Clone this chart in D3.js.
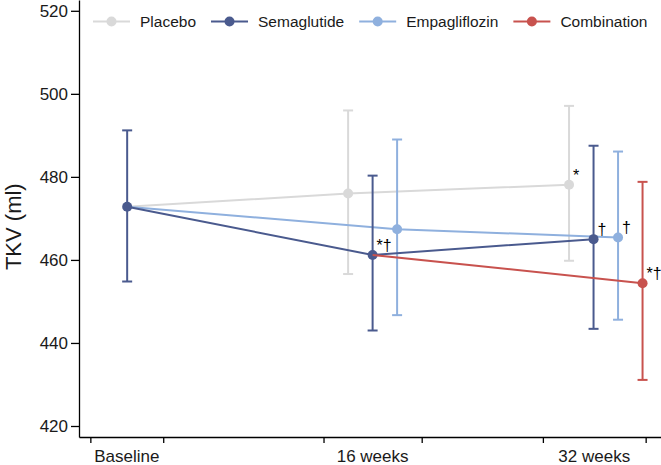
<!DOCTYPE html>
<html>
<head>
<meta charset="utf-8">
<script src="https://cdn.jsdelivr.net/npm/d3@7"></script>
<style>
  body { margin: 0; background: #fff; }
  text { font-family: "Liberation Sans", Arial, Helvetica, sans-serif; }
</style>
</head>
<body>
<div id="chart"></div>
<script>
// time points
var timeLabels = ["Baseline", "16 weeks", "32 weeks"];
var weeks = [0, 16, 32];

// group tick marks on the x axis (in weeks)
var groupTicks = [[-2.4, 2.35], [12.8, 19.2], [27.1, 33.8]];
var yTicks = [420, 440, 460, 480, 500, 520];

// series values (null = not drawn / shared point)
var seriesNames = ["Placebo", "Semaglutide", "Empagliflozin", "Combination"];
var placeboMean  = [472.8, 476.0, 478.1];
var placeboLow   = [null, 456.6, 459.8];
var placeboHigh  = [null, 496.0, 497.1];
var semaMean     = [472.8, 461.2, 465.0];
var semaLow      = [454.8, 443.0, 443.4];
var semaHigh     = [491.2, 480.3, 487.5];
var empaMean     = [472.8, 467.4, 465.4];
var empaLow      = [null, 446.7, 445.6];
var empaHigh     = [null, 489.0, 486.1];
var comboMean    = [null, 461.2, 454.4];   // starts from semaglutide at 16 weeks
var comboLow     = [null, null, 431.1];
var comboHigh    = [null, null, 478.8];

var notes = [
  {series: "Semaglutide", t: 1, text: "*†"},
  {series: "Placebo", t: 2, text: "*"},
  {series: "Semaglutide", t: 2, text: "†"},
  {series: "Empagliflozin", t: 2, text: "†"},
  {series: "Combination", t: 2, text: "*†"}
];

var colors = {
  "Placebo": "#d9d9d9",
  "Semaglutide": "#4a5a8e",
  "Empagliflozin": "#8fb0de",
  "Combination": "#c8524e"
};

var data = [
  {name: "Placebo", mean: placeboMean, low: placeboLow, high: placeboHigh},
  {name: "Semaglutide", mean: semaMean, low: semaLow, high: semaHigh},
  {name: "Empagliflozin", mean: empaMean, low: empaLow, high: empaHigh},
  {name: "Combination", mean: comboMean, low: comboLow, high: comboHigh}
];

var width = 661;
var height = 465;
var step = 24.5;

// which series sit side by side at each time point
var slots = [
  [],
  ["Placebo", "Semaglutide", "Empagliflozin"],
  ["Placebo", "Semaglutide", "Empagliflozin", "Combination"]
];

/* Scales */
var xScale = d3.scaleLinear().domain([-3.14, 34.8]).range([79, 661]);
var yScale = d3.scaleLinear().domain([417.35, 522.6]).range([437, 0]);

function xPos(name, t) {
  var s = slots[t];
  var i = s.indexOf(name);
  if (i < 0) {
    // combination branches from the semaglutide point
    i = s.indexOf("Semaglutide");
  }
  if (i < 0) return xScale(weeks[t]);
  return xScale(weeks[t]) + (i - Math.floor(s.length / 2)) * step;
}

var svg = d3.select("#chart").append("svg")
  .attr("width", width)
  .attr("height", height);

/* Axes */
svg.append("g")
  .attr("transform", "translate(79,0)")
  .call(d3.axisLeft(yScale).tickValues(yTicks).tickSize(8).tickPadding(3).tickSizeOuter(0))
  .call(g => g.selectAll("text").style("font-size", "17px").attr("fill", "#1a1a1a"))
  .call(g => g.selectAll("line, path").attr("stroke", "#000").attr("stroke-width", 1.3));

svg.append("g")
  .attr("transform", "translate(0,437)")
  .call(d3.axisBottom(xScale).tickValues(groupTicks.flat()).tickSize(6).tickSizeOuter(0).tickFormat(""))
  .call(g => g.selectAll("line, path").attr("stroke", "#000").attr("stroke-width", 1.3));

svg.append("g").selectAll("text")
  .data(timeLabels).enter()
  .append("text")
  .attr("x", (d, i) => xScale((groupTicks[i][0] + groupTicks[i][1]) / 2))
  .attr("y", 461.5)
  .attr("text-anchor", "middle")
  .style("font-size", "17px")
  .attr("fill", "#1a1a1a")
  .text(d => d);

svg.append("text")
  .attr("transform", "translate(21," + yScale(468) + ") rotate(-90)")
  .attr("text-anchor", "middle")
  .style("font-size", "22px")
  .attr("fill", "#1a1a1a")
  .text("TKV (ml)");

/* Lines */
var line = d3.line().x(d => d.x).y(d => d.y);
var drawOrder = ["Placebo", "Empagliflozin", "Semaglutide", "Combination"];

drawOrder.forEach(function(name) {
  var s = data.find(d => d.name === name);
  var pts = [];
  s.mean.forEach(function(v, t) {
    if (v !== null) pts.push({x: xPos(name, t), y: yScale(v), t: t});
  });
  var g = svg.append("g").attr("class", "series");
  g.append("path")
    .attr("d", line(pts))
    .attr("fill", "none")
    .attr("stroke", colors[name])
    .attr("stroke-width", 2);

  var bars = [];
  s.mean.forEach(function(v, t) {
    if (s.low[t] !== null) bars.push({t: t, m: v, lo: s.low[t], hi: s.high[t]});
  });
  var eb = g.selectAll(".eb").data(bars).enter().append("g");
  eb.append("line")
    .attr("x1", d => xPos(name, d.t)).attr("x2", d => xPos(name, d.t))
    .attr("y1", d => yScale(d.lo)).attr("y2", d => yScale(d.hi));
  eb.append("line")
    .attr("x1", d => xPos(name, d.t) - 5).attr("x2", d => xPos(name, d.t) + 5)
    .attr("y1", d => yScale(d.lo)).attr("y2", d => yScale(d.lo));
  eb.append("line")
    .attr("x1", d => xPos(name, d.t) - 5).attr("x2", d => xPos(name, d.t) + 5)
    .attr("y1", d => yScale(d.hi)).attr("y2", d => yScale(d.hi));
  eb.selectAll("line").attr("stroke", colors[name]).attr("stroke-width", 2);

  g.selectAll("circle").data(bars).enter().append("circle")
    .attr("cx", d => xPos(name, d.t))
    .attr("cy", d => yScale(d.m))
    .attr("r", 5)
    .attr("fill", colors[name]);
});

/* Significance marks */
svg.append("g").selectAll("text")
  .data(notes).enter()
  .append("text")
  .attr("x", d => xPos(d.series, d.t) + 4)
  .attr("y", d => yScale(data.find(s => s.name === d.series).mean[d.t]) - 4)
  .style("font-size", "16px")
  .attr("fill", "#000")
  .text(d => d.text);

/* Legend */
var legend = svg.append("g").attr("transform", "translate(93,21.5)");
var lx = 0;
seriesNames.forEach(function(name) {
  var item = legend.append("g").attr("transform", "translate(" + lx + ",0)");
  item.append("line").attr("x1", 0).attr("x2", 37).attr("y1", 0).attr("y2", 0)
    .attr("stroke", colors[name]).attr("stroke-width", 2);
  item.append("circle").attr("cx", 18.5).attr("cy", 0).attr("r", 5).attr("fill", colors[name]);
  var t = item.append("text").attr("x", 47).attr("y", 5.4)
    .style("font-size", "15.5px").attr("fill", "#1a1a1a").text(name);
  lx += 47 + t.node().getComputedTextLength() + 15;
});
</script>
</body>
</html>
